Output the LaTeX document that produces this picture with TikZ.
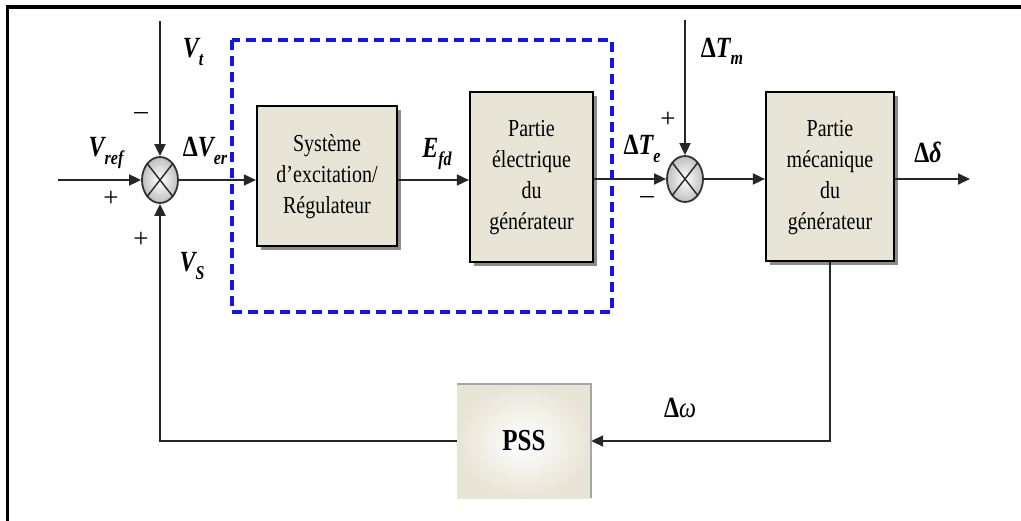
\documentclass[tikz,border=0pt]{standalone}
\usepackage{fontspec}
\usepackage{graphicx}
\setmainfont{Liberation Serif}
\usetikzlibrary{arrows.meta,shapes.geometric,shadows}
\definecolor{boxfill}{RGB}{232,228,214}
\definecolor{dashblue}{RGB}{20,20,240}
\newcommand{\vst}[1]{\scalebox{1}[1.22]{#1}}
\newcommand{\blk}[1]{\vst{\begin{tabular}{@{}c@{}}#1\end{tabular}}}
\newcommand{\lab}[2]{\vst{#1\raisebox{-0.25em}{\fontsize{16}{16}\selectfont #2}}}
\newcommand{\Dl}{{\upshape Δ}}
\begin{document}
\begin{tikzpicture}[x=1pt,y=-1pt,
 line/.style={line width=1.8pt, black!85},
 arr/.style={line, -{Triangle[length=12pt,width=11pt]}},
 blockbox/.style={draw=black, line width=2.2pt, fill=boxfill, align=center,
   font=\fontsize{20}{25.5}\selectfont, inner sep=0pt,
   drop shadow={shadow xshift=4pt, shadow yshift=-4pt, fill=black!45, opacity=1}},
 pssbox/.style={inner color=white, outer color=boxfill, minimum width=134pt,
   minimum height=114pt, inner sep=0pt, font=\fontsize{25}{25}\selectfont\bfseries},
 sumj/.style={ellipse, draw=black!80, line width=1.8pt, inner color=white,
   outer color=black!25, minimum width=36pt, minimum height=46pt, inner sep=0pt},
 crossl/.style={line width=1.4pt, black!85},
 mlab/.style={font=\fontsize{24}{24}\selectfont\bfseries\itshape},
 sgn/.style={font=\fontsize{27}{27}\selectfont},
 frameline/.style={black}
]
\useasboundingbox (0,0) rectangle (1021,521);
% frame
\draw[frameline, line width=4pt] (5.5,7) -- (1021,7);
\draw[frameline, line width=3pt] (7,5) -- (7,521);

% dashed region
\draw[dashblue, line width=3.5pt, dash pattern=on 10pt off 6pt] (232,40) rectangle (612,312);

% blocks
\node[blockbox, minimum width=140pt, minimum height=140pt] (b1) at (327,176) {\blk{Système\\d’excitation/\\Régulateur}};
\node[blockbox, minimum width=123pt, minimum height=170pt] (b2) at (531.5,177) {\blk{Partie\\électrique\\du\\générateur}};
\node[blockbox, minimum width=128pt, minimum height=169pt] (b3) at (830,176.5) {\blk{Partie\\mécanique\\du\\générateur}};
\node[pssbox] (pss) at (524,441) {\vst{PSS}};
\draw[black!35, line width=2pt] (pss.north west) -- (pss.north east) -- (pss.south east);

% summing junctions
\node[sumj] (s1) at (160,180) {};
\node[sumj] (s2) at (685,179) {};
\draw[crossl] (s1.center) ++(-12.7,-16.3) -- ++(25.4,32.6);
\draw[crossl] (s1.center) ++(-12.7,16.3) -- ++(25.4,-32.6);
\draw[crossl] (s2.center) ++(-12.7,-16.3) -- ++(25.4,32.6);
\draw[crossl] (s2.center) ++(-12.7,16.3) -- ++(25.4,-32.6);

% free ends
\coordinate (vt) at (160,21);
\coordinate (vref) at (58,180);
\coordinate (tm) at (685,20);
\coordinate (dout) at (970,179);

% connectors
\draw[arr] (vt) -- (s1);
\draw[arr] (vref) -- (s1);
\draw[arr] (pss.west) -| (s1);
\draw[arr] (s1) -- (s1 -| b1.west);
\draw[arr] (b1.east |- s1) -- (b2.west |- s1);
\draw[arr] (b2.east |- s2) -- (s2);
\draw[arr] (tm) -- (s2);
\draw[arr] (s2) -- (b3.west |- s2);
\draw[arr] (b3.east |- s2) -- (dout);
\draw[arr] (b3.south) |- (pss.east);

% labels
\node[mlab] (lvt) at (193,52) {\lab{V}{t}};
\node[mlab] (lvref) at (106,153) {\lab{V}{ref}};
\node[mlab] (lver) at (205,151) {\lab{\Dl V}{er}};
\node[mlab] (lvs) at (192,266) {\lab{V}{S}};
\node[mlab] (lefd) at (437,154) {\lab{E}{fd}};
\node[mlab] (lte) at (642,149) {\lab{\Dl T}{e}};
\node[mlab] (ltm) at (722,51) {\lab{\Dl T}{m}};
\node[mlab] (ld) at (928,152) {\vst{\Dl δ}};
\node[mlab] (lw) at (680,408) {\vst{\Dl{\mdseries ω}}};

% signs
\node[sgn] (m1) at (141,116) {–};
\node[sgn] (p1) at (111,199) {+};
\node[sgn] (p2) at (141,240) {+};
\node[sgn] (p3) at (668,120) {+};
\node[sgn] (m2) at (647,200) {–};
\end{tikzpicture}
\end{document}
